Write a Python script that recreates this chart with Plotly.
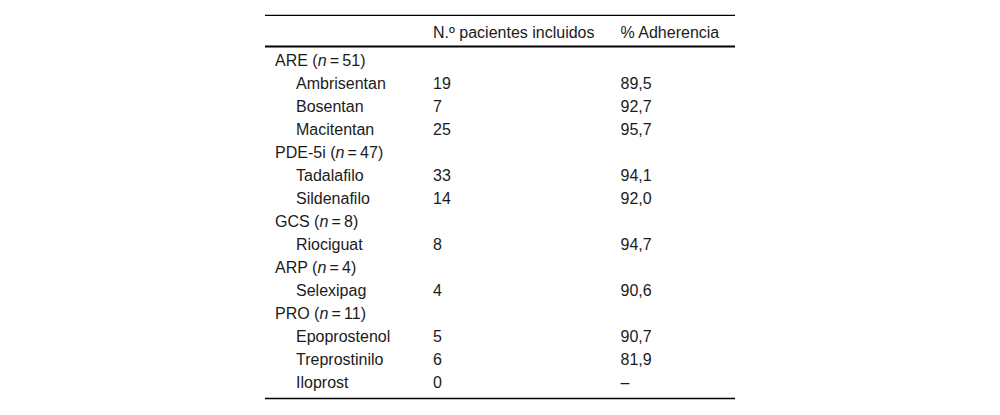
import plotly.graph_objects as go

# filas de la tabla: grupos y fármacos
grupos = ["ARE", "PDE-5i", "GCS", "ARP", "PRO"]
n_grupo = [51, 47, 8, 4, 11]
farmacos = [
    ["Ambrisentan", "Bosentan", "Macitentan"],
    ["Tadalafilo", "Sildenafilo"],
    ["Riociguat"],
    ["Selexipag"],
    ["Epoprostenol", "Treprostinilo", "Iloprost"],
]
pacientes = [[19, 7, 25], [33, 14], [8], [4], [5, 6, 0]]
adherencia = [["89,5", "92,7", "95,7"], ["94,1", "92,0"], ["94,7"], ["90,6"], ["90,7", "81,9", "–"]]
cabecera = ["N.º pacientes incluidos", "% Adherencia"]

# geometría (en píxeles de la página)
OFF = 8                      # margen por defecto del body
X_GRUPO, X_FARMACO, X_COL2, X_COL3 = 275, 296, 433, 620.5
X_IZQ, X_DER = 265, 735
Y_TOP, Y_CAB, Y_LINEA_CAB, Y_FONDO = 15.3, 33.5, 46.5, 398.5
Y_FILA0, PASO = 62.2, 23

etiquetas, x_etq, y_etq = [], [], []
n_txt, ad_txt, y_val = [], [], []
fila = 0
for g, n, fs, ps, ads in zip(grupos, n_grupo, farmacos, pacientes, adherencia):
    etiquetas.append(f"{g} (<i>n</i>\u2009=\u2009{n})")
    x_etq.append(X_GRUPO)
    y_etq.append(Y_FILA0 + fila * PASO)
    fila += 1
    for f, p, a in zip(fs, ps, ads):
        etiquetas.append(f)
        x_etq.append(X_FARMACO)
        y_etq.append(Y_FILA0 + fila * PASO)
        n_txt.append(str(p))
        ad_txt.append(a)
        y_val.append(Y_FILA0 + fila * PASO)
        fila += 1

fuente = dict(family="Liberation Sans", size=16, color="#1b1b1b")
texto = dict(mode="text", textposition="middle right", textfont=fuente,
             hoverinfo="skip", showlegend=False)

fig = go.Figure()
fig.add_trace(go.Scatter(x=x_etq, y=y_etq, text=etiquetas, **texto))
fig.add_trace(go.Scatter(x=[X_COL2] * len(n_txt), y=y_val, text=n_txt, **texto))
fig.add_trace(go.Scatter(x=[X_COL3] * len(ad_txt), y=y_val, text=ad_txt, **texto))
fig.add_trace(go.Scatter(x=[X_COL2, X_COL3], y=[Y_CAB, Y_CAB], text=cabecera, **texto))

# líneas horizontales de la tabla
for y, w in [(Y_TOP, 1.2), (Y_LINEA_CAB, 2), (Y_FONDO, 1.4)]:
    fig.add_shape(type="line", xref="x", yref="y", x0=X_IZQ, x1=X_DER, y0=y, y1=y,
                  line=dict(color="black", width=w))

W, H = 1000 - 2 * OFF, 415 - 2 * OFF
fig.update_layout(
    width=W, height=H, margin=dict(l=0, r=0, t=0, b=0),
    paper_bgcolor="white", plot_bgcolor="white",
    xaxis=dict(range=[OFF, OFF + W], visible=False, fixedrange=True),
    yaxis=dict(range=[OFF + H, OFF], visible=False, fixedrange=True),
)
fig.write_html("out.html")
